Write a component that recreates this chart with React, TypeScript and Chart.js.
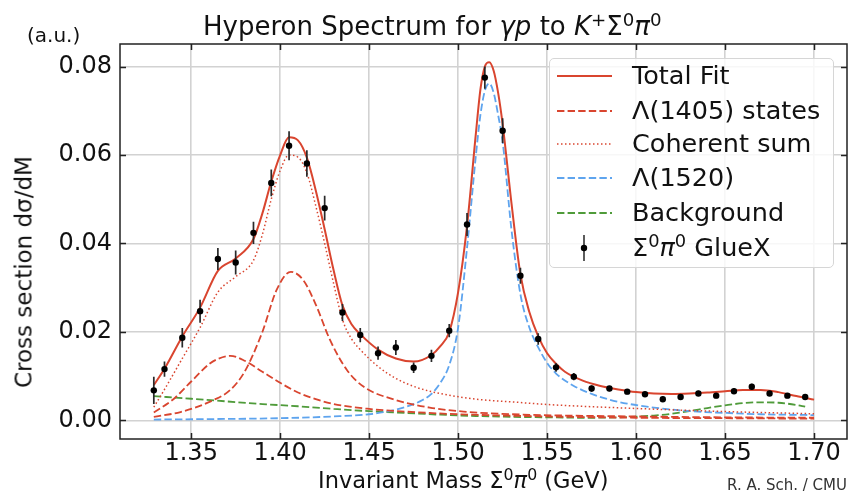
import React, { useEffect, useRef } from 'react';
import { Chart, registerables } from 'chart.js';

Chart.register(...registerables);

// ---------- data ----------
const massPoints = [
  1.329, 1.335, 1.345, 1.355, 1.365, 1.375, 1.385, 1.395, 1.405, 1.415,
  1.425, 1.435, 1.445, 1.455, 1.465, 1.475, 1.485, 1.495, 1.505, 1.515,
  1.525, 1.535, 1.545, 1.555, 1.565, 1.575, 1.585, 1.595, 1.605, 1.615,
  1.625, 1.635, 1.645, 1.655, 1.665, 1.675, 1.685, 1.695,
];
const sigmaPoints = [
  0.0068, 0.0116, 0.0187, 0.0247, 0.0365, 0.0357, 0.0424, 0.0537, 0.0621, 0.0581,
  0.048, 0.0244, 0.0193, 0.0152, 0.0165, 0.0119, 0.0146, 0.0203, 0.0443, 0.0775,
  0.0655, 0.0327, 0.0184, 0.012, 0.0099, 0.0072, 0.0072, 0.0065, 0.0059, 0.0048,
  0.0053, 0.0061, 0.0056, 0.0066, 0.0076, 0.0061, 0.0056, 0.0053,
];
const sigmaErrors = [
  0.0031, 0.0017, 0.0022, 0.0026, 0.0025, 0.0027, 0.0025, 0.003, 0.0033, 0.003,
  0.0028, 0.0019, 0.0016, 0.0015, 0.0017, 0.0012, 0.0014, 0.0015, 0.0026, 0.0025,
  0.0028, 0.0018, 0.0013, 0.001, 0.0008, 0.0007, 0.0006, 0.0006, 0.0006, 0.0006,
  0.0006, 0.0006, 0.0006, 0.0006, 0.0007, 0.0006, 0.0006, 0.0006,
];

const totalMass = [
  1.329, 1.335, 1.345, 1.355, 1.365, 1.375, 1.385, 1.39, 1.395, 1.4,
  1.405, 1.41, 1.415, 1.42, 1.425, 1.43, 1.435, 1.44, 1.445, 1.455,
  1.465, 1.475, 1.485, 1.49, 1.495, 1.5, 1.505, 1.51, 1.5125, 1.515,
  1.5175, 1.52, 1.5225, 1.525, 1.53, 1.535, 1.54, 1.545, 1.55, 1.555,
  1.56, 1.57, 1.58, 1.59, 1.6, 1.61, 1.62, 1.63, 1.64, 1.65,
  1.66, 1.67, 1.68, 1.69, 1.7,
];
const totalFit = [
  0.008, 0.0117, 0.019, 0.0255, 0.0338, 0.0366, 0.041, 0.0468, 0.054, 0.06,
  0.064, 0.0633, 0.0594, 0.052, 0.0432, 0.034, 0.026, 0.0218, 0.0195, 0.016,
  0.014, 0.0133, 0.0148, 0.0168, 0.02, 0.029, 0.044, 0.065, 0.0748, 0.08,
  0.081, 0.079, 0.074, 0.067, 0.049, 0.033, 0.0245, 0.019, 0.0152, 0.0128,
  0.011, 0.009, 0.0078, 0.007, 0.0064, 0.0061, 0.006, 0.0061, 0.0063, 0.0066,
  0.0069, 0.0069, 0.0064, 0.0055, 0.0047,
];

const lambda1405aMass = [
  1.329, 1.34, 1.35, 1.36, 1.365, 1.372, 1.38, 1.39, 1.4, 1.41,
  1.42, 1.43, 1.45, 1.47, 1.5, 1.55, 1.6, 1.65, 1.7,
];
const lambda1405a = [
  0.0018, 0.0048, 0.0088, 0.0127, 0.0139, 0.0146, 0.0135, 0.011, 0.0085, 0.0063,
  0.0048, 0.0037, 0.0026, 0.002, 0.0014, 0.0009, 0.0006, 0.0005, 0.0004,
];
const lambda1405bMass = [
  1.329, 1.344, 1.3625, 1.372, 1.38, 1.39, 1.398, 1.406, 1.413, 1.42,
  1.428, 1.4375, 1.447, 1.465, 1.484, 1.503, 1.53, 1.6, 1.65, 1.7,
];
const lambda1405b = [
  0.0008, 0.0019, 0.0046, 0.0069, 0.011, 0.02, 0.0295, 0.0336, 0.0317, 0.0262,
  0.0182, 0.0114, 0.0076, 0.0046, 0.0029, 0.002, 0.0014, 0.0009, 0.0007, 0.0006,
];

const coherentMass = [
  1.329, 1.335, 1.345, 1.355, 1.365, 1.375, 1.385, 1.39, 1.395, 1.4,
  1.405, 1.41, 1.415, 1.42, 1.425, 1.43, 1.435, 1.44, 1.445, 1.455,
  1.465, 1.475, 1.485, 1.495, 1.51, 1.53, 1.55, 1.6, 1.65, 1.7,
];
const coherentSum = [
  0.003, 0.007, 0.014, 0.021, 0.029, 0.0325, 0.0362, 0.042, 0.05, 0.0565,
  0.06, 0.0595, 0.056, 0.0485, 0.04, 0.031, 0.0228, 0.0185, 0.016, 0.0122,
  0.0095, 0.0077, 0.0065, 0.0057, 0.0048, 0.0042, 0.0036, 0.0027, 0.002, 0.0015,
];

const lambda1520Mass = [
  1.329, 1.36, 1.4, 1.43, 1.45, 1.46, 1.47, 1.48, 1.485, 1.49,
  1.495, 1.5, 1.505, 1.51, 1.5125, 1.515, 1.5175, 1.52, 1.5225, 1.525,
  1.53, 1.535, 1.54, 1.545, 1.55, 1.555, 1.565, 1.575, 1.585, 1.595,
  1.61, 1.63, 1.65, 1.67, 1.7,
];
const lambda1520 = [
  0.0002, 0.0003, 0.0005, 0.0009, 0.0014, 0.002, 0.003, 0.0046, 0.006, 0.0085,
  0.0125, 0.021, 0.039, 0.06, 0.069, 0.0745, 0.0762, 0.074, 0.069, 0.063,
  0.043, 0.0285, 0.021, 0.0165, 0.013, 0.0106, 0.0078, 0.006, 0.0047, 0.0038,
  0.0029, 0.0021, 0.0017, 0.0014, 0.0012,
];

const backgroundMass = [
  1.329, 1.35, 1.37, 1.39, 1.41, 1.43, 1.45, 1.47, 1.49, 1.51,
  1.53, 1.55, 1.57, 1.59, 1.61, 1.62, 1.63, 1.64, 1.65, 1.66,
  1.67, 1.68, 1.69, 1.695,
];
const background = [
  0.0055, 0.0049, 0.0043, 0.0037, 0.0032, 0.0026, 0.0021, 0.0017, 0.0013, 0.001,
  0.0008, 0.0007, 0.0006, 0.0007, 0.0011, 0.0015, 0.0021, 0.0028, 0.0034, 0.0039,
  0.0041, 0.004, 0.0035, 0.0031,
];

const xTickValues = [1.35, 1.4, 1.45, 1.5, 1.55, 1.6, 1.65, 1.7];
const yTickValues = [0.0, 0.02, 0.04, 0.06, 0.08];

const legendLabels = ['Total Fit', 'Λ(1405) states', 'Coherent sum', 'Λ(1520)', 'Background'];

// ---------- styling ----------
const RED = '#d9452f';
const BLUE = '#5ea4ee';
const GREEN = '#4f9b3a';
const FONT = '"DejaVu Sans", "Liberation Sans", sans-serif';
const DASH = [7.4, 3.2];
const DOT = [1.5, 2.5];

const pts = (xs: number[], ys: number[]) => xs.map((x, i) => ({ x, y: ys[i] }));

const framePlugin = {
  id: 'frameTicks',
  afterDatasetsDraw(chart: any) {
    const { ctx, chartArea: a, scales } = chart;
    ctx.save();
    ctx.strokeStyle = '#222';
    ctx.lineWidth = 1.5;
    const len = 6;
    ctx.beginPath();
    for (const t of scales.x.ticks) {
      const p = Math.round(scales.x.getPixelForValue(t.value)) + 0.5;
      ctx.moveTo(p, a.bottom);
      ctx.lineTo(p, a.bottom - len);
      ctx.moveTo(p, a.top);
      ctx.lineTo(p, a.top + len);
    }
    for (const t of scales.y.ticks) {
      const p = Math.round(scales.y.getPixelForValue(t.value)) + 0.5;
      ctx.moveTo(a.left, p);
      ctx.lineTo(a.left + len, p);
      ctx.moveTo(a.right, p);
      ctx.lineTo(a.right - len, p);
    }
    ctx.stroke();
    ctx.strokeRect(a.left, a.top, a.right - a.left, a.bottom - a.top);
    ctx.restore();
  },
};

function Sample({ kind }: { kind: number }) {
  if (kind === 5) {
    return (
      <svg width={56} height={30} style={{ display: 'block' }}>
        <line x1={27} y1={2} x2={27} y2={28} stroke="#333" strokeWidth={1.6} />
        <circle cx={27} cy={15} r={3.2} fill="#000" />
      </svg>
    );
  }
  const styles = [
    { c: RED, w: 2, d: undefined },
    { c: RED, w: 2, d: DASH.join(' ') },
    { c: RED, w: 1.5, d: DOT.join(' ') },
    { c: BLUE, w: 2, d: DASH.join(' ') },
    { c: GREEN, w: 2, d: DASH.join(' ') },
  ][kind];
  return (
    <svg width={56} height={10} style={{ display: 'block' }}>
      <line x1={0} y1={5} x2={55} y2={5} stroke={styles.c} strokeWidth={styles.w} strokeDasharray={styles.d} />
    </svg>
  );
}

const sup = (s: string) => (
  <sup style={{ fontSize: '0.7em', verticalAlign: '0.5em', lineHeight: 0 }}>{s}</sup>
);

export default function App() {
  const ref = useRef<HTMLCanvasElement>(null);

  useEffect(() => {
    if (!ref.current) return;
    Chart.defaults.font.family = FONT;
    const errorBars = massPoints.flatMap((x, i) => [
      { x, y: sigmaPoints[i] - sigmaErrors[i] },
      { x, y: sigmaPoints[i] + sigmaErrors[i] },
      { x, y: null as any },
    ]);
    const curve = (data: any, color: string, width: number, dash: number[], order: number) => ({
      data,
      borderColor: color,
      borderWidth: width,
      borderDash: dash,
      pointRadius: 0,
      fill: false,
      cubicInterpolationMode: 'monotone' as const,
      order,
    });
    const chart = new Chart(ref.current, {
      type: 'line',
      data: {
        datasets: [
          curve(pts(backgroundMass, background), GREEN, 1.8, DASH, 7),
          curve(pts(lambda1520Mass, lambda1520), BLUE, 1.8, DASH, 6),
          curve(pts(coherentMass, coherentSum), RED, 1.5, DOT, 5),
          curve(pts(lambda1405aMass, lambda1405a), RED, 1.8, DASH, 4),
          curve(pts(lambda1405bMass, lambda1405b), RED, 1.8, DASH, 3),
          curve(pts(totalMass, totalFit), RED, 2, [], 2),
          {
            data: errorBars,
            borderColor: '#2a2a2a',
            borderWidth: 1.7,
            pointRadius: 0,
            spanGaps: false,
            fill: false,
            order: 1,
          } as any,
          {
            data: pts(massPoints, sigmaPoints),
            showLine: false,
            pointRadius: 3.2,
            pointBackgroundColor: '#000',
            pointBorderWidth: 0,
            order: 0,
          } as any,
        ],
      },
      options: {
        animation: false,
        responsive: false,
        events: [],
        layout: { padding: { top: 44, right: 19, left: 0, bottom: 0 } },
        plugins: { legend: { display: false }, tooltip: { enabled: false }, title: { display: false } },
        scales: {
          x: {
            type: 'linear',
            min: 1.31,
            max: 1.7185,
            afterBuildTicks: (s: any) => { s.ticks = xTickValues.map((v) => ({ value: v })); },
            afterFit: (s: any) => { s.height = 58; },
            ticks: {
              callback: (v: any) => Number(v).toFixed(2),
              font: { size: 24, family: FONT },
              color: '#111',
              padding: 0,
              maxRotation: 0,
              autoSkip: false,
            },
            grid: { color: '#d2d2d2', lineWidth: 1.6, drawTicks: false },
            border: { display: false },
          },
          y: {
            type: 'linear',
            min: -0.0042,
            max: 0.0851,
            afterBuildTicks: (s: any) => { s.ticks = yTickValues.map((v) => ({ value: v })); },
            afterFit: (s: any) => { s.width = 120; },
            ticks: {
              callback: (v: any) => Number(v).toFixed(2),
              font: { size: 24, family: FONT },
              color: '#111',
              padding: 8,
            },
            grid: { color: '#d2d2d2', lineWidth: 1.6, drawTicks: false },
            border: { display: false },
          },
        },
      },
      plugins: [framePlugin],
    } as any);
    return () => chart.destroy();
  }, []);

  const rowCenters = [17, 52, 85, 119, 154, 189];

  return (
    <div
      style={{
        position: 'fixed', left: 0, top: 0, width: 866, height: 497,
        background: '#fff', fontFamily: FONT, color: '#111', overflow: 'hidden',
      }}
    >
      <canvas ref={ref} width={866} height={497} style={{ position: 'absolute', left: 0, top: 0, width: 866, height: 497 }} />

      <div style={{ position: 'absolute', left: 203, top: 13, fontSize: 26, lineHeight: '26px', whiteSpace: 'nowrap' }}>
        Hyperon Spectrum for <i>γp</i> to <i>K</i>{sup('+')}Σ{sup('0')}<i>π</i>{sup('0')}
      </div>

      <div style={{ position: 'absolute', left: 27, top: 25, fontSize: 20, lineHeight: '20px', whiteSpace: 'nowrap' }}>
        (a.u.)
      </div>

      <div
        style={{
          position: 'absolute', left: 24, top: 272, fontSize: 23, lineHeight: '23px', whiteSpace: 'nowrap',
          transform: 'translate(-50%, -50%) rotate(-90deg)',
        }}
      >
        Cross section dσ/dM
      </div>

      <div style={{ position: 'absolute', left: 318, top: 469, fontSize: 22.5, lineHeight: '22.5px', whiteSpace: 'nowrap' }}>
        Invariant Mass Σ{sup('0')}<i>π</i>{sup('0')} (GeV)
      </div>

      <div style={{ position: 'absolute', left: 727, top: 478, fontSize: 15, lineHeight: '15px', color: '#333', whiteSpace: 'nowrap' }}>
        R. A. Sch. / CMU
      </div>

      <div
        style={{
          position: 'absolute', left: 549, top: 58, width: 285, height: 210, boxSizing: 'border-box',
          border: '1px solid #d6d6d6', borderRadius: 5, background: 'rgba(255,255,255,0.82)',
        }}
      >
        {rowCenters.map((c, i) => (
          <React.Fragment key={i}>
            <div style={{ position: 'absolute', left: 7, top: c - (i === 5 ? 15 : 5) }}>
              <Sample kind={i} />
            </div>
            <div style={{ position: 'absolute', left: 82, top: c - 13, fontSize: 25.5, lineHeight: '25.5px', whiteSpace: 'nowrap' }}>
              {i < 5 ? legendLabels[i] : (
                <>Σ{sup('0')}<i>π</i>{sup('0')} GlueX</>
              )}
            </div>
          </React.Fragment>
        ))}
      </div>
    </div>
  );
}
